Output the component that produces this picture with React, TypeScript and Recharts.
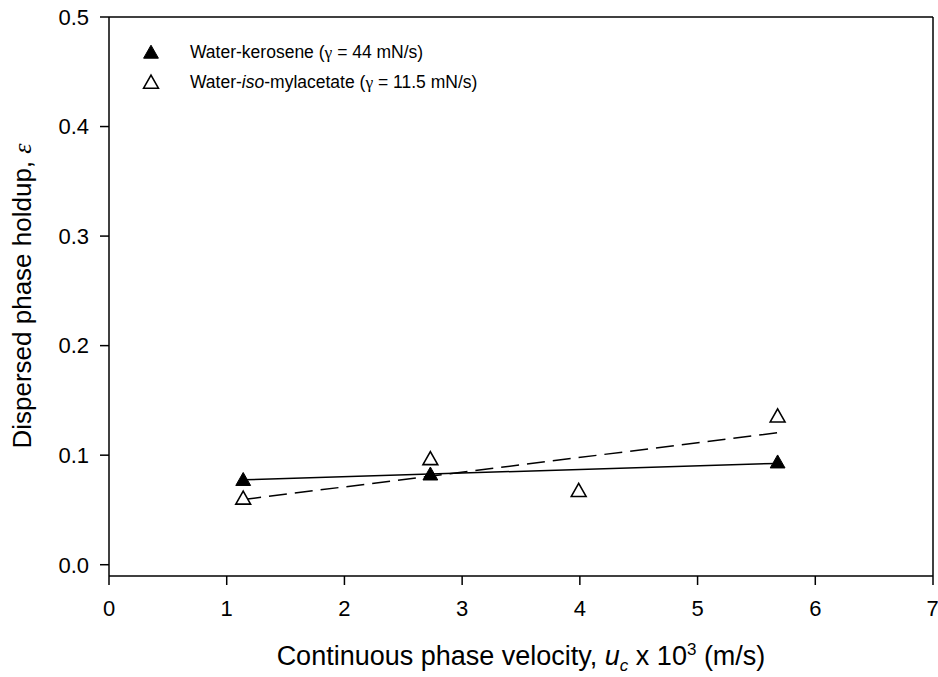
import React from 'react';
import { ComposedChart, XAxis, YAxis, Scatter, Line, ReferenceLine } from 'recharts';

// measured points
const keroseneX = [1.14, 2.73, 5.68];
const keroseneY = [0.078, 0.083, 0.094];
const isoX = [1.14, 2.73, 3.99, 5.68];
const isoY = [0.061, 0.097, 0.068, 0.136];

// fitted lines (end points)
const keroseneFitX = [1.14, 5.68];
const keroseneFitY = [0.0775, 0.0925];
const isoFitX = [1.14, 5.68];
const isoFitY = [0.0595, 0.1205];

const xTicks = [0, 1, 2, 3, 4, 5, 6, 7];
const yTicks = [0, 0.1, 0.2, 0.3, 0.4, 0.5];

const zip = (xs: number[], ys: number[]) => xs.map((x, i) => ({ x, y: ys[i] }));

const kerosene = zip(keroseneX, keroseneY);
const iso = zip(isoX, isoY);
const keroseneFit = zip(keroseneFitX, keroseneFitY);
const isoFit = zip(isoFitX, isoFitY);

const FONT = '"Liberation Sans", Arial, sans-serif';
const SERIF = '"Liberation Serif", "Times New Roman", serif';

const tri = (cx: number, cy: number) =>
  `M${cx},${cy - 6.8} L${cx + 7.4},${cy + 6.2} L${cx - 7.4},${cy + 6.2} Z`;

const FilledTriangle = (props: any) => {
  const { cx, cy } = props;
  if (cx == null || cy == null) return null;
  return <path d={tri(cx, cy)} fill="#000" stroke="#000" strokeWidth={1} />;
};

const OpenTriangle = (props: any) => {
  const { cx, cy } = props;
  if (cx == null || cy == null) return null;
  return <path d={tri(cx, cy)} fill="#fff" stroke="#000" strokeWidth={1.6} />;
};

const smallScript = (top: number, italic = false): React.CSSProperties => ({
  fontSize: 17,
  position: 'relative',
  top,
  lineHeight: 0,
  fontStyle: italic ? 'italic' : 'normal',
});

export default function App() {
  return (
    <div style={{ position: 'absolute', left: 0, top: 0, width: 938, height: 677, fontFamily: FONT, color: '#000' }}>
      <ComposedChart
        width={938}
        height={677}
        margin={{ top: 17, right: 5, left: 29, bottom: 61 }}
      >
        <XAxis
          dataKey="x"
          type="number"
          domain={[0, 7]}
          ticks={xTicks}
          allowDataOverflow
          stroke="#000"
          strokeWidth={1.5}
          tickSize={9}
          tickMargin={15}
          height={40}
          tick={{ fill: '#000', fontSize: 22, fontFamily: FONT }}
        />
        <YAxis
          type="number"
          domain={[-0.0103, 0.5]}
          ticks={yTicks}
          allowDataOverflow
          width={80}
          stroke="#000"
          strokeWidth={1.5}
          tickSize={9}
          tickMargin={11}
          tickFormatter={(v: number) => v.toFixed(1)}
          tick={{ fill: '#000', fontSize: 22, fontFamily: FONT }}
        />
        <ReferenceLine y={0.5} stroke="#000" strokeWidth={1.5} />
        <ReferenceLine x={7} stroke="#000" strokeWidth={1.5} />
        <Line
          data={keroseneFit}
          dataKey="y"
          stroke="#000"
          strokeWidth={1.5}
          dot={false}
          activeDot={false}
          isAnimationActive={false}
          type="linear"
        />
        <Line
          data={isoFit}
          dataKey="y"
          stroke="#000"
          strokeWidth={1.5}
          strokeDasharray="18 8"
          dot={false}
          activeDot={false}
          isAnimationActive={false}
          type="linear"
        />
        <Scatter data={kerosene} dataKey="y" shape={FilledTriangle} isAnimationActive={false} />
        <Scatter data={iso} dataKey="y" shape={OpenTriangle} isAnimationActive={false} />
      </ComposedChart>

      {/* legend */}
      <div style={{ position: 'absolute', left: 139, top: 37, fontSize: 17.5, lineHeight: '30px' }}>
        <div style={{ display: 'flex', alignItems: 'center' }}>
          <svg width={24} height={30}><path d={tri(12, 15)} fill="#000" stroke="#000" /></svg>
          <span style={{ marginLeft: 27 }}>
            Water-kerosene (<span style={{ fontFamily: SERIF }}>γ</span> = 44 mN/s)
          </span>
        </div>
        <div style={{ display: 'flex', alignItems: 'center' }}>
          <svg width={24} height={30}><path d={tri(12, 15)} fill="#fff" stroke="#000" strokeWidth={1.6} /></svg>
          <span style={{ marginLeft: 27 }}>
            Water-<i>iso</i>-mylacetate (<span style={{ fontFamily: SERIF }}>γ</span> = 11.5 mN/s)
          </span>
        </div>
      </div>

      {/* x axis title */}
      <div style={{ position: 'absolute', left: 109, width: 824, top: 641, textAlign: 'center', fontSize: 27, lineHeight: '30px', whiteSpace: 'nowrap' }}>
        Continuous phase velocity, <i>u</i><span style={smallScript(6, true)}>c</span> x 10<span style={smallScript(-10)}>3</span> (m/s)
      </div>

      {/* y axis title */}
      <div
        style={{
          position: 'absolute',
          left: 22 - 200,
          top: 296 - 15,
          width: 400,
          height: 30,
          lineHeight: '30px',
          textAlign: 'center',
          fontSize: 26,
          whiteSpace: 'nowrap',
          transform: 'rotate(-90deg)',
          transformOrigin: 'center',
        }}
      >
        Dispersed phase holdup, <i style={{ fontFamily: SERIF }}>ε</i>
      </div>
    </div>
  );
}
